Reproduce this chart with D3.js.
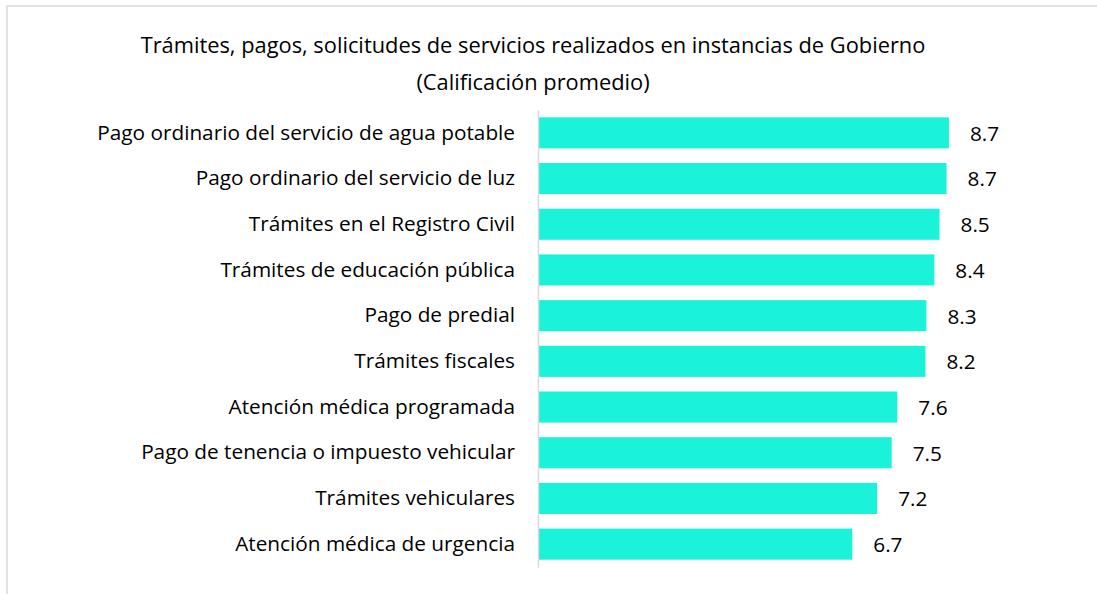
<!DOCTYPE html>
<html>
<head>
<meta charset="utf-8">
<script src="https://cdn.jsdelivr.net/npm/d3@7.9.0/dist/d3.min.js"></script>
<style>
  html, body { margin: 0; background: #fff; overflow: hidden; }
  svg { display: block; font-family: "Open Sans", sans-serif; }
</style>
</head>
<body>
<svg width="1097" height="594"></svg>
<script>
const categories = [
  'Pago ordinario del servicio de agua potable',
  'Pago ordinario del servicio de luz',
  'Trámites en el Registro Civil',
  'Trámites de educación pública',
  'Pago de predial',
  'Trámites fiscales',
  'Atención médica programada',
  'Pago de tenencia o impuesto vehicular',
  'Trámites vehiculares',
  'Atención médica de urgencia'
];
const values = [8.74, 8.69, 8.54, 8.43, 8.26, 8.24, 7.64, 7.52, 7.21, 6.68];
const titleLines = [
  'Trámites, pagos, solicitudes de servicios realizados en instancias de Gobierno',
  '(Calificación promedio)'
];

const svg = d3.select('svg');

// chart frame: only the top and left edges are in the picture
svg.append('path')
  .attr('d', 'M7,600V6H1100')
  .attr('fill', 'none')
  .attr('stroke', '#d9d9d9')
  .attr('stroke-width', 1.5);

const left = 539;
const x = d3.scaleLinear().domain([0, 10]).range([0, 469]);
const y = d3.scaleBand()
  .domain(categories)
  .range([110, 567])
  .paddingInner(0.32)
  .paddingOuter(0.16);

// title
const title = svg.append('g')
  .selectAll('text')
  .data(titleLines)
  .join('text')
  .attr('x', 533)
  .attr('y', (d, i) => 53 + i * 37)
  .attr('text-anchor', 'middle')
  .attr('font-size', 20)
  .attr('fill', '#000')
  .text(d => d);

// size the title so its first line is as wide as in the original
const tw = title.node().getComputedTextLength();
title.attr('font-size', 20 * 785 / tw);

const g = svg.append('g').attr('transform', `translate(${left},0)`);

g.selectAll('rect.bar')
  .data(values)
  .join('rect')
  .attr('class', 'bar')
  .attr('x', 0)
  .attr('y', (d, i) => y(categories[i]))
  .attr('width', d => x(d))
  .attr('height', y.bandwidth())
  .attr('fill', '#1bf2da');

// category axis
const yAxis = g.append('g').call(d3.axisLeft(y).tickSize(0).tickPadding(24));
yAxis.select('.domain')
  .attr('stroke', '#d9d9d9')
  .attr('stroke-width', 1.5)
  .attr('transform', 'translate(-1,0)');
const ticks = yAxis.selectAll('.tick text')
  .attr('font-size', 18)
  .attr('font-family', '"Open Sans", sans-serif')
  .attr('fill', '#000');

// longest label is ~418px wide in the original
const lw = d3.max(ticks.nodes(), n => n.getComputedTextLength());
const fs = 18 * 418 / lw;
ticks.attr('font-size', fs);

// value labels
g.selectAll('text.val')
  .data(values)
  .join('text')
  .attr('class', 'val')
  .attr('x', d => x(d) + 21)
  .attr('y', (d, i) => y(categories[i]) + y.bandwidth() / 2)
  .attr('dy', '0.38em')
  .attr('font-size', fs)
  .attr('fill', '#000')
  .text(d => d.toFixed(1));
</script>
</body>
</html>
